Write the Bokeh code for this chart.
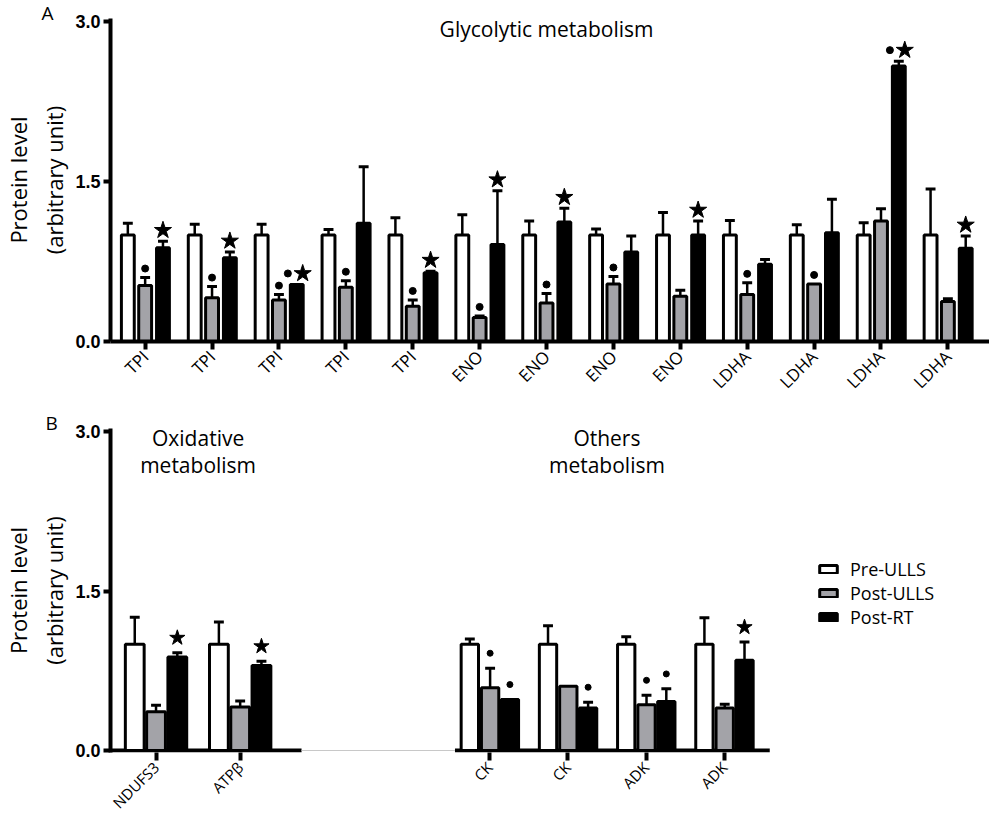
import numpy as np
from bokeh.plotting import figure
from bokeh.models import Range1d, FixedTicker, Label, Legend, LegendItem, PrintfTickFormatter
from bokeh.layouts import column
from bokeh.embed import file_html
from bokeh.resources import INLINE

# ---------------- data ----------------
series = ["Pre-ULLS", "Post-ULLS", "Post-RT"]

# Panel A : glycolytic metabolism
a_proteins = ["TPI", "TPI", "TPI", "TPI", "TPI", "ENO", "ENO", "ENO", "ENO",
              "LDHA", "LDHA", "LDHA", "LDHA"]
a_pre = [1.0, 1.0, 1.0, 1.0, 1.0, 1.0, 1.0, 1.0, 1.0, 1.0, 1.0, 1.0, 1.0]
a_pre_sem = [0.11, 0.10, 0.10, 0.05, 0.16, 0.19, 0.13, 0.055, 0.21, 0.135, 0.095, 0.115, 0.43]
a_ulls = [0.525, 0.41, 0.39, 0.51, 0.33, 0.225, 0.36, 0.54, 0.425, 0.44, 0.54, 1.13, 0.375]
a_ulls_sem = [0.075, 0.105, 0.05, 0.06, 0.06, 0.015, 0.09, 0.07, 0.055, 0.11, 0.0, 0.115, 0.025]
a_rt = [0.88, 0.785, 0.535, 1.11, 0.645, 0.91, 1.12, 0.84, 1.0, 0.725, 1.02, 2.585, 0.875]
a_rt_sem = [0.06, 0.055, 0.0, 0.53, 0.015, 0.505, 0.13, 0.15, 0.13, 0.045, 0.315, 0.045, 0.115]
a_ulls_dot = [1, 1, 1, 1, 1, 1, 1, 1, 0, 1, 1, 0, 0]   # vs Pre-ULLS
a_rt_dot = [0, 0, 1, 0, 0, 0, 0, 0, 0, 0, 0, 1, 0]     # vs Pre-ULLS
a_rt_star = [1, 1, 1, 0, 1, 1, 1, 0, 1, 0, 0, 1, 1]    # vs Post-ULLS

# Panel B : oxidative + others metabolism
b_proteins = ["NDUFS3", "ATPβ", "CK", "CK", "ADK", "ADK"]
b_pre = [1.0, 1.0, 1.0, 1.0, 1.0, 1.0]
b_pre_sem = [0.255, 0.21, 0.05, 0.175, 0.07, 0.25]
b_ulls = [0.365, 0.41, 0.59, 0.605, 0.43, 0.40]
b_ulls_sem = [0.062, 0.055, 0.185, 0.0, 0.09, 0.035]
b_rt = [0.88, 0.80, 0.48, 0.40, 0.46, 0.85]
b_rt_sem = [0.04, 0.04, 0.0, 0.055, 0.12, 0.17]
b_ulls_dot = [0, 0, 1, 0, 1, 0]
b_rt_dot = [0, 0, 1, 1, 1, 0]
b_rt_star = [1, 1, 0, 0, 0, 1]

# ---------------- styling ----------------
FILLS = ["white", "#a3a3a8", "black"]
TXT = "Open Sans"
NUMF = "Liberation Sans"


def base_fig(height, x_range, y_range, bottom, panel, title_offset, xlab_size):
    p = figure(width=989, height=height, x_range=x_range, y_range=y_range,
               output_backend="svg", toolbar_location=None,
               min_border_left=101, min_border_right=0, min_border_top=18,
               min_border_bottom=bottom)
    p.outline_line_color = None
    p.xgrid.visible = False
    p.ygrid.visible = False
    p.background_fill_color = "white"
    p.border_fill_color = "white"
    p.title.text = panel
    p.title.align = "left"
    p.title.offset = title_offset
    p.title.standoff = -15
    p.title.text_font = TXT
    p.title.text_font_size = "19px"
    p.title.text_font_style = "normal"
    p.title.text_color = "black"
    p.title.vertical_align = "bottom"
    ya = p.yaxis[0]
    ya.ticker = FixedTicker(ticks=[0, 1.5, 3.0])
    ya.formatter = PrintfTickFormatter(format="%.1f")
    ya.axis_line_width = 4
    ya.major_tick_line_width = 4
    ya.major_tick_out = 7
    ya.major_tick_in = 0
    ya.minor_tick_out = 0
    ya.minor_tick_in = 0
    ya.major_label_text_font = NUMF
    ya.major_label_text_font_style = "bold"
    ya.major_label_text_font_size = "18px"
    ya.major_label_text_color = "black"
    ya.major_label_standoff = 3
    ya.axis_label = "Protein level\n(arbitrary unit)"
    ya.axis_label_text_font = TXT
    ya.axis_label_text_font_style = "normal"
    ya.axis_label_text_font_size = "22px"
    ya.axis_label_text_color = "black"
    ya.axis_label_standoff = 3
    xa = p.xaxis[0]
    xa.major_tick_line_width = 4
    xa.major_tick_out = 8
    xa.major_tick_in = 0
    xa.minor_tick_out = 0
    xa.minor_tick_in = 0
    xa.major_label_orientation = np.pi / 4
    xa.major_label_text_font = TXT
    xa.major_label_text_font_size = xlab_size
    xa.major_label_text_color = "black"
    xa.major_label_standoff = 4
    return p


def draw_groups(p, centers, offsets, bar_w, cap_w, vals, sems, ulls_dot, rt_dot, rt_star,
                gap_dot, gap_star, dot_size, star_size, pair_dx):
    centers = np.asarray(centers, dtype=float)
    xs = []
    rends = []
    for k in range(3):
        x = centers + offsets[k]
        xs.append(x)
        v = np.asarray(vals[k], dtype=float)
        s = np.asarray(sems[k], dtype=float)
        r = p.vbar(x=x, top=v, bottom=0, width=bar_w, fill_color=FILLS[k],
                   line_color="black", line_width=3)
        rends.append(r)
        has = s > 0
        p.segment(x0=x[has], y0=v[has], x1=x[has], y1=(v + s)[has],
                  line_color="black", line_width=2.5)
        p.segment(x0=x[has] - cap_w / 2, y0=(v + s)[has], x1=x[has] + cap_w / 2,
                  y1=(v + s)[has], line_color="black", line_width=3)
    # significance markers
    tops_u = np.asarray(vals[1]) + np.asarray(sems[1])
    tops_r = np.asarray(vals[2]) + np.asarray(sems[2])
    du = np.asarray(ulls_dot, dtype=bool)
    p.scatter(x=xs[1][du], y=tops_u[du] + gap_dot, marker="circle", size=dot_size,
              fill_color="black", line_color="black")
    dr = np.asarray(rt_dot, dtype=bool)
    sr = np.asarray(rt_star, dtype=bool)
    both = dr & sr
    only_d = dr & ~sr
    only_s = sr & ~dr
    p.scatter(x=xs[2][only_d], y=tops_r[only_d] + gap_dot, marker="circle", size=dot_size,
              fill_color="black", line_color="black")
    p.scatter(x=xs[2][only_s], y=tops_r[only_s] + gap_star, marker="star", size=star_size,
              fill_color="black", line_color="black")
    p.scatter(x=xs[2][both] - pair_dx[0], y=tops_r[both] + gap_star, marker="circle",
              size=dot_size, fill_color="black", line_color="black")
    p.scatter(x=xs[2][both] + pair_dx[1], y=tops_r[both] + gap_star, marker="star",
              size=star_size, fill_color="black", line_color="black")
    return rends


# ---------------- Panel A ----------------
nA = len(a_proteins)
stepA = 67.58
xA0 = -0.518
pyA = 1 / 106.6
pA = base_fig(410, Range1d(xA0, xA0 + 888 / stepA), Range1d(0, 3.03), 69, "A", -69, "17px")
pA.xaxis[0].axis_line_width = 4
pA.xaxis[0].ticker = FixedTicker(ticks=list(range(nA)))
pA.xaxis[0].major_label_overrides = {i: lab for i, lab in enumerate(a_proteins)}
pxA = 1.0 / stepA
draw_groups(pA, np.arange(nA), [-17.5 * pxA, 0.0, 18 * pxA], 13 * pxA, 10 * pxA,
            [a_pre, a_ulls, a_rt], [a_pre_sem, a_ulls_sem, a_rt_sem],
            a_ulls_dot, a_rt_dot, a_rt_star,
            9 * pyA, 11 * pyA, 7, 18, (9 * pxA, 6 * pxA))
pA.add_layout(Label(x=(nA - 1) / 2, y=2.935, text="Glycolytic metabolism",
                    text_font=TXT, text_font_size="21px", text_align="center",
                    text_baseline="middle", text_color="black"))

# ---------------- Panel B ----------------
left_pos = [147 + 85 * i for i in range(2)]
right_pos = [484 + 79 * i for i in range(4)]
b_pos = left_pos + right_pos
pyB = 1 / 106.8
pB = base_fig(412, Range1d(101, 989), Range1d(-2 * pyB, 3.03), 68, "B", -65, "15px")
pB.xaxis[0].axis_line_color = None
pB.xaxis[0].ticker = FixedTicker(ticks=b_pos)
pB.xaxis[0].major_label_overrides = {pos: lab for pos, lab in zip(b_pos, b_proteins)}

# axis line pieces (two graphs joined by a thin line)
pB.segment(x0=[101, right_pos[0] - 35], y0=[0, 0],
           x1=[left_pos[-1] + 62, right_pos[-1] + 46], y1=[0, 0],
           line_color="black", line_width=4)
pB.segment(x0=[left_pos[-1] + 62], y0=[0], x1=[right_pos[0] - 35], y1=[0],
           line_color="#c8c8c8", line_width=1)

rB = draw_groups(pB, left_pos, [-21.5, 0.0, 21.5], 19, 10,
                 [b_pre[:2], b_ulls[:2], b_rt[:2]], [b_pre_sem[:2], b_ulls_sem[:2], b_rt_sem[:2]],
                 b_ulls_dot[:2], b_rt_dot[:2], b_rt_star[:2],
                 15 * pyB, 15 * pyB, 6, 16, (8, 6))
draw_groups(pB, right_pos, [-20, 0.5, 20.5], 17.5, 10,
            [b_pre[2:], b_ulls[2:], b_rt[2:]], [b_pre_sem[2:], b_ulls_sem[2:], b_rt_sem[2:]],
            b_ulls_dot[2:], b_rt_dot[2:], b_rt_star[2:],
            15 * pyB, 15 * pyB, 6, 16, (8, 6))

for cx, lines in [((left_pos[0] + left_pos[-1]) / 2, ["Oxidative", "metabolism"]),
                  ((right_pos[0] + right_pos[-1]) / 2, ["Others", "metabolism"])]:
    for j, t in enumerate(lines):
        pB.add_layout(Label(x=cx, y=2.937 - j * 27 * pyB, text=t, text_font=TXT,
                            text_font_size="21px", text_align="center",
                            text_baseline="middle", text_color="black"))

legend = Legend(items=[LegendItem(label=s, renderers=[r]) for s, r in zip(series, rB)],
                location=(707, 123), glyph_width=22, glyph_height=10, label_height=20,
                spacing=0, padding=0, margin=0, label_standoff=11,
                label_text_font=TXT, label_text_font_size="18px", label_text_color="black",
                border_line_color=None, background_fill_alpha=0)
pB.add_layout(legend)

layout = column(pA, pB, spacing=0)
open("out.html", "w").write(file_html(layout, INLINE))
